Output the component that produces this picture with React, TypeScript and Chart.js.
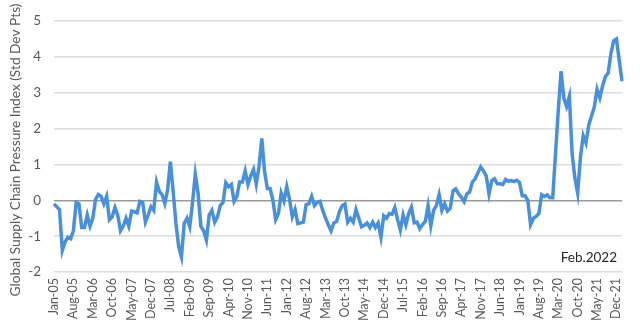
import React, { useEffect, useRef } from 'react';
import { Chart, registerables } from 'chart.js';

Chart.register(...registerables);

const MONTH_NAMES = ['Jan', 'Feb', 'Mar', 'Apr', 'May', 'Jun', 'Jul', 'Aug', 'Sep', 'Oct', 'Nov', 'Dec'];
const FIRST_YEAR = 2005;

// Global Supply Chain Pressure Index, monthly Jan-05 .. Feb-22
const GSCPI = [
  -0.10, -0.18, -0.26, -1.40, -1.16, -1.03, -1.07, -0.85, -0.06, -0.10, -0.76, -0.76,
  -0.41, -0.72, -0.50, 0.03, 0.16, 0.11, -0.10, 0.11, -0.54, -0.46, -0.20, -0.41,
  -0.85, -0.72, -0.50, -0.72, -0.30, -0.32, -0.35, -0.03, -0.06, -0.61, -0.41, -0.18,
  -0.28, 0.51, 0.25, 0.16, -0.09, 0.29, 1.08, 0.25, -0.64, -1.29, -1.58, -0.64,
  -0.50, -0.74, -0.06, 0.73, 0.20, -0.72, -0.85, -1.11, -0.41, -0.28, -0.61, -0.46,
  -0.15, -0.06, 0.49, 0.38, 0.44, -0.03, 0.11, 0.51, 0.51, 0.82, 0.44, 0.68,
  0.86, 0.45, 0.95, 1.73, 0.80, 0.33, 0.33, 0.00, -0.54, -0.37, 0.20, -0.02,
  0.38, 0.03, -0.46, -0.26, -0.65, -0.63, -0.61, -0.12, -0.10, 0.11, -0.15, -0.06,
  -0.03, -0.28, -0.50, -0.68, -0.85, -0.63, -0.59, -0.32, -0.15, -0.10, -0.61, -0.50,
  -0.61, -0.26, -0.50, -0.74, -0.70, -0.63, -0.76, -0.61, -0.76, -0.63, -1.03, -0.43,
  -0.50, -0.37, -0.39, -0.20, -0.54, -0.83, -0.41, -0.68, -0.37, -0.19, -0.63, -0.61,
  -0.79, -0.68, -0.59, -0.15, -0.71, -0.28, -0.15, 0.16, -0.28, -0.10, -0.30, -0.22,
  0.26, 0.32, 0.18, 0.09, -0.04, 0.18, 0.23, 0.51, 0.60, 0.77, 0.93, 0.82,
  0.68, 0.18, 0.55, 0.60, 0.46, 0.46, 0.44, 0.58, 0.53, 0.55, 0.52, 0.56,
  0.50, 0.13, 0.13, 0.00, -0.68, -0.50, -0.45, -0.37, 0.16, 0.11, 0.15, 0.07,
  0.07, 1.30, 2.50, 3.60, 2.85, 2.62, 2.90, 1.30, 0.62, 0.20, 1.20, 1.80,
  1.60, 2.10, 2.35, 2.60, 3.10, 2.86, 3.20, 3.45, 3.55, 4.10, 4.45, 4.50,
  3.90, 3.32,
];

const CATEGORIES = GSCPI.map(
  (_, i) => `${MONTH_NAMES[i % 12]}-${String((FIRST_YEAR + Math.floor(i / 12)) % 100).padStart(2, '0')}`
);
const TICK_STEP = 7;
const Y_MIN = -2;
const Y_MAX = 5;
const Y_TITLE = 'Global Supply Chain Pressure Index (Std Dev Pts)';
const NOTE = 'Feb.2022';
const NOTE_VALUE = -1.6;

const FONT = 'Lato, "Open Sans", sans-serif';

const textPlugin = {
  id: 'texts',
  afterDatasetsDraw(chart: any) {
    const { ctx, chartArea, scales } = chart;
    ctx.save();
    ctx.font = `13.5px ${FONT}`;
    ctx.fillStyle = '#262626';
    ctx.textAlign = 'right';
    ctx.textBaseline = 'middle';
    ctx.fillText(NOTE, chartArea.right - 5, scales.y.getPixelForValue(NOTE_VALUE));
    ctx.restore();

    // y-axis title, centred on the whole canvas height as in the reference
    ctx.save();
    ctx.font = `13.7px ${FONT}`;
    ctx.fillStyle = '#595959';
    ctx.textAlign = 'center';
    ctx.textBaseline = 'middle';
    ctx.translate(16, chart.height / 2 - 10);
    ctx.rotate(-Math.PI / 2);
    ctx.fillText(Y_TITLE, 0, 0);
    ctx.restore();
  },
};

export default function App() {
  const ref = useRef<HTMLCanvasElement | null>(null);

  useEffect(() => {
    document.body.style.margin = '0';
    if (!ref.current) return;
    const chart = new Chart(ref.current, {
      type: 'line',
      data: {
        labels: CATEGORIES,
        datasets: [
          {
            data: GSCPI,
            borderColor: '#4a90d9',
            borderWidth: 3.5,
            pointRadius: 0,
            tension: 0,
            fill: false,
          },
        ],
      },
      options: {
        animation: false,
        responsive: false,
        maintainAspectRatio: false,
        layout: { padding: { left: 0, right: 18, top: 6, bottom: 0 } },
        plugins: { legend: { display: false }, tooltip: { enabled: false } },
        scales: {
          x: {
            type: 'category',
            offset: false,
            grid: { display: false, drawTicks: false },
            border: { display: false },
            afterFit: (s: any) => {
              s.height = 48;
            },
            ticks: {
              autoSkip: false,
              minRotation: 90,
              maxRotation: 90,
              padding: 6,
              color: '#595959',
              font: { family: FONT, size: 12.5 },
              callback: (_v: any, i: number) => (i % TICK_STEP === 0 ? CATEGORIES[i] : null),
            },
          },
          y: {
            min: Y_MIN,
            max: Y_MAX,
            afterFit: (s: any) => {
              s.width = 54;
            },
            grid: {
              drawTicks: false,
              color: (c: any) => (c.tick && c.tick.value === 0 ? '#9a9a9a' : '#dcdcdc'),
              lineWidth: 1.5,
            },
            border: { display: false },
            ticks: {
              stepSize: 1,
              padding: 13,
              color: '#595959',
              font: { family: FONT, size: 13.5 },
            },
          },
        },
      },
      plugins: [textPlugin],
    });
    return () => chart.destroy();
  }, []);

  return (
    <div style={{ width: 640, height: 320 }}>
      <canvas ref={ref} width={640} height={320} style={{ width: 640, height: 320 }} />
    </div>
  );
}
